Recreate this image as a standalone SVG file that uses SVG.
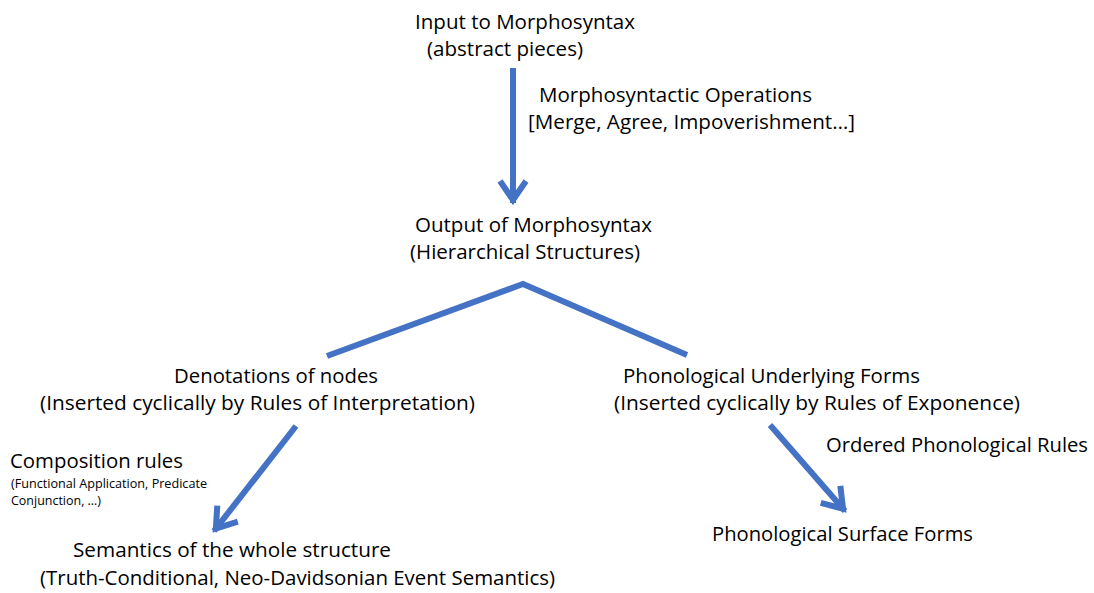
<svg xmlns="http://www.w3.org/2000/svg" width="1094" height="593" viewBox="0 0 1094 593">
<style>
text{font-family:"Open Sans","Liberation Sans",sans-serif;fill:#000;}
.t{font-size:19.5px;}
.s{font-size:13px;}
.c{fill:none;stroke:#4472C4;stroke-width:6;}
</style>
<defs>
<marker id="ah" viewBox="-30 -20 40 40" refX="0" refY="0" markerWidth="40" markerHeight="40" markerUnits="userSpaceOnUse" orient="auto">
<path d="M-22,-13 L-3,0 L-22,13" fill="none" stroke="#4472C4" stroke-width="6"/>
</marker>
</defs>
<rect width="1094" height="593" fill="#fff"/>
<g id="connectors">
<line class="c" x1="513" y1="68" x2="513" y2="203" marker-end="url(#ah)"/>
<polyline class="c" points="327,356 523,284 687,355"/>
<line class="c" x1="296" y1="426" x2="214" y2="531" marker-end="url(#ah)"/>
<line class="c" x1="770" y1="425" x2="845" y2="511" marker-end="url(#ah)"/>
</g>
<g id="input">
<text class="t" x="415" y="29" textLength="220" lengthAdjust="spacingAndGlyphs">Input to Morphosyntax</text>
<text class="t" x="427" y="56" textLength="156" lengthAdjust="spacingAndGlyphs">(abstract pieces)</text>
</g>
<g id="ops">
<text class="t" x="539" y="102" textLength="273" lengthAdjust="spacingAndGlyphs">Morphosyntactic Operations</text>
<text class="t" x="528" y="129" textLength="327" lengthAdjust="spacingAndGlyphs">[Merge, Agree, Impoverishment…]</text>
</g>
<g id="output">
<text class="t" x="415" y="232" textLength="237" lengthAdjust="spacingAndGlyphs">Output of Morphosyntax</text>
<text class="t" x="410" y="259" textLength="230" lengthAdjust="spacingAndGlyphs">(Hierarchical Structures)</text>
</g>
<g id="denotations">
<text class="t" x="174" y="383" textLength="204" lengthAdjust="spacingAndGlyphs">Denotations of nodes</text>
<text class="t" x="40" y="410" textLength="435" lengthAdjust="spacingAndGlyphs">(Inserted cyclically by Rules of Interpretation)</text>
</g>
<g id="underlying">
<text class="t" x="623" y="383" textLength="297" lengthAdjust="spacingAndGlyphs">Phonological Underlying Forms</text>
<text class="t" x="614" y="410" textLength="406" lengthAdjust="spacingAndGlyphs">(Inserted cyclically by Rules of Exponence)</text>
</g>
<g id="composition">
<text class="t" x="10" y="468" textLength="173" lengthAdjust="spacingAndGlyphs">Composition rules</text>
<text class="s" x="11" y="488" textLength="196" lengthAdjust="spacingAndGlyphs">(Functional Application, Predicate</text>
<text class="s" x="11" y="505" textLength="90" lengthAdjust="spacingAndGlyphs">Conjunction, …)</text>
</g>
<g id="semantics">
<text class="t" x="73" y="557" textLength="318" lengthAdjust="spacingAndGlyphs">Semantics of the whole structure</text>
<text class="t" x="40" y="585" textLength="515" lengthAdjust="spacingAndGlyphs">(Truth-Conditional, Neo-Davidsonian Event Semantics)</text>
</g>
<g id="rules">
<text class="t" x="826" y="452" textLength="262" lengthAdjust="spacingAndGlyphs">Ordered Phonological Rules</text>
</g>
<g id="surface">
<text class="t" x="712" y="541" textLength="261" lengthAdjust="spacingAndGlyphs">Phonological Surface Forms</text>
</g>
</svg>
